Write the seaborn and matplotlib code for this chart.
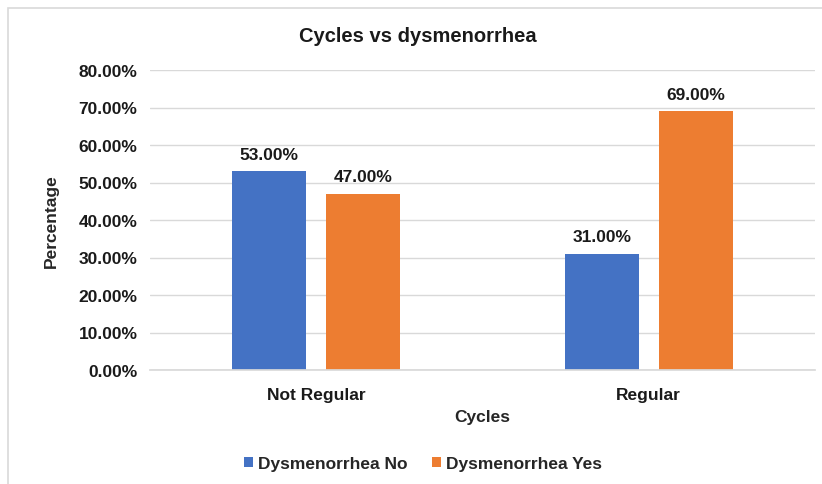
import matplotlib
matplotlib.use("Agg")
import matplotlib.pyplot as plt
import seaborn as sns
import pandas as pd
from matplotlib.ticker import FuncFormatter
from matplotlib.patches import Rectangle

categories = ["Not Regular", "Regular"]
series = ["Dysmenorrhea No", "Dysmenorrhea Yes"]
values_no = [0.53, 0.31]
values_yes = [0.47, 0.69]
colors = ["#4472C4", "#ED7D31"]

df = pd.DataFrame({
    "Cycles": categories * 2,
    "Series": [series[0]] * 2 + [series[1]] * 2,
    "Value": values_no + values_yes,
})

sns.set_theme(style="white")
plt.rcParams["font.family"] = ["Liberation Sans", "DejaVu Sans"]

fig = plt.figure(figsize=(8.22, 4.85), dpi=100)
ax = fig.add_axes([150 / 822, 1 - 371 / 485, 665 / 822, 300 / 485])

sns.barplot(data=df, x="Cycles", y="Value", hue="Series", order=categories,
            hue_order=series, palette=colors, width=0.564, gap=0.213,
            saturation=1, linewidth=0, ax=ax, legend=True)

ax.set_xlim(-0.5, 1.5)
ax.set_ylim(0, 0.8)
ax.set_yticks([i / 10 for i in range(9)])
ax.yaxis.set_major_formatter(FuncFormatter(lambda v, p: f"{v*100:.2f}%"))
ax.grid(axis="y", color="#D9D9D9", linewidth=1)
ax.set_axisbelow(True)
for s in ["top", "right", "left"]:
    ax.spines[s].set_visible(False)
ax.spines["bottom"].set_color("#D9D9D9")
ax.tick_params(axis="y", length=0, labelsize=12.5, pad=9)
ax.tick_params(axis="x", length=0, labelsize=12.5, pad=12)
for lab in ax.get_xticklabels() + ax.get_yticklabels():
    lab.set_fontweight("bold")
    lab.set_color("#1a1a1a")

for cont in ax.containers:
    labels = [f"{b.get_height()*100:.2f}%" for b in cont]
    ax.bar_label(cont, labels=labels, padding=7, fontsize=12.5, fontweight="bold", color="#1a1a1a")

ax.set_xlabel("Cycles", fontsize=12.5, fontweight="bold", labelpad=5)
ax.set_ylabel("Percentage", fontsize=12.5, fontweight="bold", labelpad=14)
fig.text(418 / 822, 1 - 37 / 485, "Cycles vs dysmenorrhea", ha="center", va="center",
         fontsize=14.5, fontweight="bold", color="#1a1a1a")

handles, lbls = ax.get_legend_handles_labels()
ax.get_legend().remove()
fig.legend(handles, lbls, loc="center", bbox_to_anchor=(423 / 822, 1 - 465 / 485), ncol=2,
           frameon=False, prop={"size": 12.5, "weight": "bold"}, handlelength=0.5,
           handleheight=0.5, handletextpad=0.3, columnspacing=1.4)

fig.patches.append(Rectangle((8 / 822, -0.1), 1.2, 1 - 9 / 485 + 0.1, transform=fig.transFigure,
                             fill=False, edgecolor="#D9D9D9", linewidth=1.2))

fig.savefig("out.png", dpi=100)
